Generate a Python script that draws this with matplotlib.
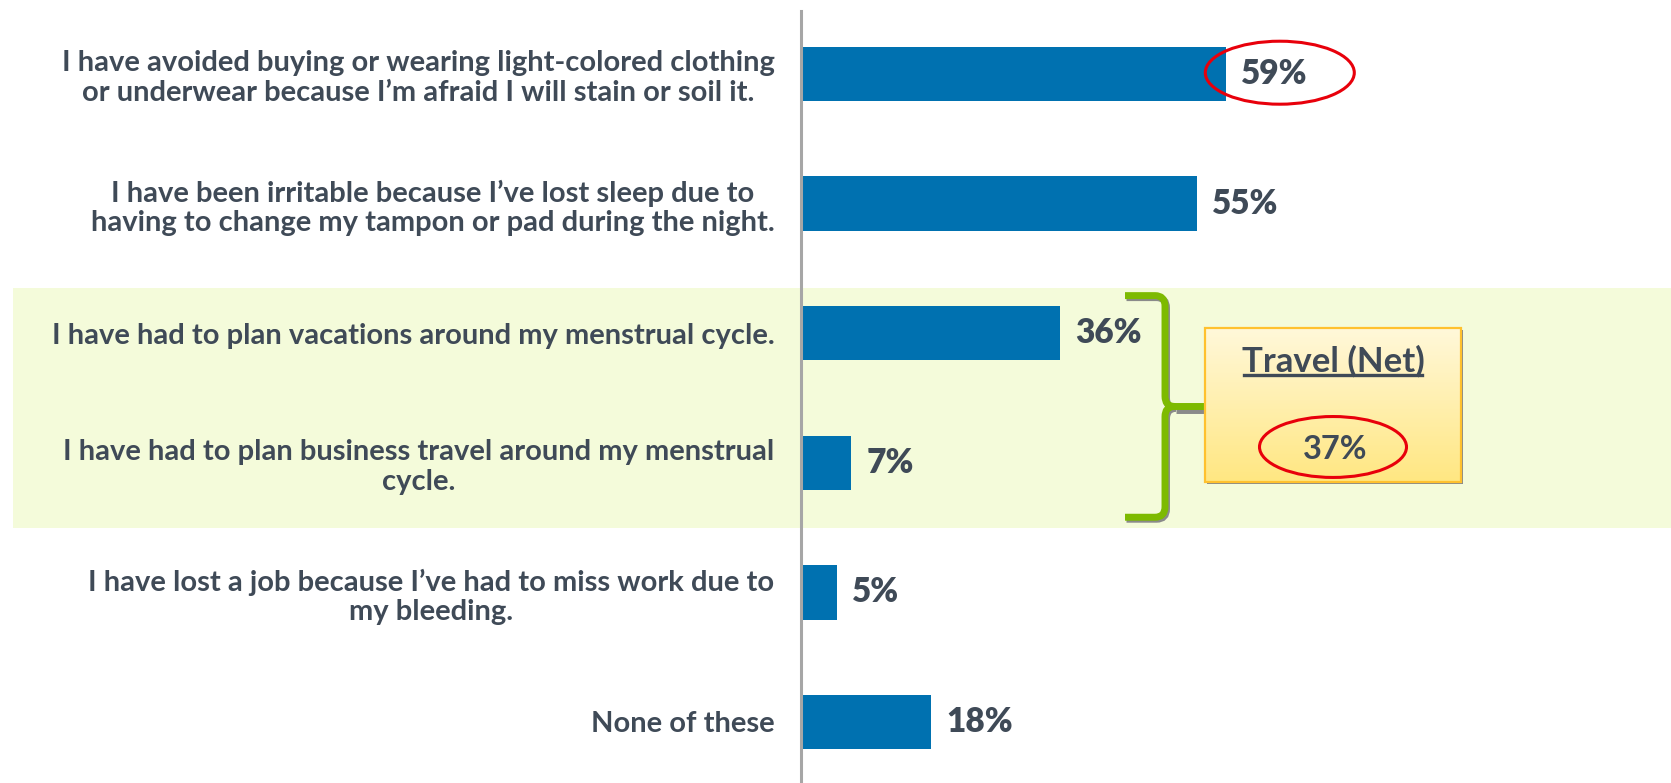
import matplotlib
matplotlib.use('Agg')
from matplotlib import pyplot as plt
from matplotlib.patches import Rectangle, Ellipse, PathPatch
from matplotlib.path import Path
from matplotlib.lines import Line2D
from matplotlib.colors import LinearSegmentedColormap
import matplotlib.transforms as mtransforms
import numpy as np

plt.rcParams['font.family'] = ['Lato', 'DejaVu Sans']

# survey statements and share of respondents
labels = [
    'I have avoided buying or wearing light-colored clothing\nor underwear because I\u2019m afraid I will stain or soil it.',
    'I have been irritable because I\u2019ve lost sleep due to\nhaving to change my tampon or pad during the night.',
    'I have had to plan vacations around my menstrual cycle.',
    'I have had to plan business travel around my menstrual\ncycle.',
    'I have lost a job because I\u2019ve had to miss work due to\nmy bleeding.',
    'None of these',
]
values = [59, 55, 36, 7, 5, 18]
travel_rows = [2, 3]
travel_net = 37
circled_row = 0

bar_color = '#0071B0'
text_color = '#3F4A57'
band_color = '#F4FBDA'
brace_color = '#7DBA00'
ring_color = '#E8000B'

W, H = 1671, 783
x0_px = 801
px_per_pct = 7.2
row_px = 129.6


def px(x):
    # figure pixel column -> data x
    return (x - x0_px) / px_per_pct


fig = plt.figure(figsize=(W / 100, H / 100), dpi=100)
ax = fig.add_axes([x0_px / W, 0, (W - x0_px) / W, 1])
ax.set_facecolor('none')

y_top = -74 / row_px
y_bot = y_top + H / row_px

# highlighted band behind the travel rows
band_tr = mtransforms.blended_transform_factory(fig.transFigure, ax.transData)
band = Rectangle((13 / W, travel_rows[0] - 0.35), 1 - 13 / W,
                 travel_rows[-1] - travel_rows[0] + 0.85,
                 transform=band_tr, facecolor=band_color, edgecolor='none',
                 clip_on=False, zorder=0)
ax.add_patch(band)

y = np.arange(len(values))
ax.barh(y, values, height=0.42, color=bar_color, zorder=2)

for i, v in enumerate(values):
    ax.annotate(f'{v}%', (v, i), xytext=(11, 0), textcoords='offset points',
                va='center', ha='left', fontsize=24, fontweight='heavy',
                color=text_color, zorder=5)

# red ring around the top value
ax.add_patch(Ellipse((values[circled_row] + 54 / px_per_pct, circled_row - 0.01),
                     149 / px_per_pct, 0.486,
                     facecolor='none', edgecolor=ring_color, lw=2.2, zorder=6))

# curly brace joining the travel rows
x_tip, x_v, x_pt = px(1125), px(1165), px(1174)
x_box0, x_box1 = px(1205), px(1461)
rx = 10 / px_per_pct
b_top = travel_rows[0] - 0.29
b_bot = travel_rows[-1] + 0.42
b_mid = (b_top + b_bot) / 2
r = 0.08
verts = [(x_tip, b_top), (x_v - rx, b_top), (x_v, b_top), (x_v, b_top + r),
         (x_v, b_mid - r), (x_v, b_mid), (x_pt, b_mid), (x_v, b_mid), (x_v, b_mid + r),
         (x_v, b_bot - r), (x_v, b_bot), (x_v - rx, b_bot), (x_tip, b_bot)]
codes = [Path.MOVETO, Path.LINETO, Path.CURVE3, Path.CURVE3, Path.LINETO,
         Path.CURVE3, Path.CURVE3, Path.CURVE3, Path.CURVE3, Path.LINETO,
         Path.CURVE3, Path.CURVE3, Path.LINETO]
brace = Path(verts, codes)
shadow_tr = mtransforms.offset_copy(ax.transData, fig, x=1.5, y=-2, units='dots')
ax.add_patch(PathPatch(brace, facecolor='none', edgecolor='#8a8a8a', lw=5,
                       transform=shadow_tr, zorder=3, clip_on=False))
ax.add_patch(PathPatch(brace, facecolor='none', edgecolor=brace_color, lw=5,
                       capstyle='butt', joinstyle='round', zorder=4, clip_on=False))
ax.plot([x_pt, x_box0], [b_mid + 0.015, b_mid + 0.015], color='#8a8a8a', lw=5,
        transform=shadow_tr, zorder=3, solid_capstyle='butt')
ax.plot([x_pt - 0.5, x_box0], [b_mid, b_mid], color=brace_color, lw=5,
        zorder=4, solid_capstyle='butt')

# net box with gradient
bx_top, bx_bot = 1.96, 3.15
ax.add_patch(Rectangle((x_box0, bx_top), x_box1 - x_box0, bx_bot - bx_top,
                       transform=shadow_tr, facecolor='#8a8a8a',
                       edgecolor='none', zorder=3))
grad = np.linspace(0, 1, 100).reshape(-1, 1)
cmap = LinearSegmentedColormap.from_list('box', ['#FFF8DA', '#FFE782'])
ax.imshow(grad, cmap=cmap, extent=(x_box0, x_box1, bx_bot, bx_top),
          origin='upper', aspect='auto', zorder=4)
ax.add_patch(Rectangle((x_box0, bx_top), x_box1 - x_box0, bx_bot - bx_top,
                       facecolor='none', edgecolor='#FFC12E', lw=1.6, zorder=5))
bx_c = (x_box0 + x_box1) / 2
title = ax.text(bx_c, 2.215, 'Travel (Net)', ha='center', va='center',
                fontsize=25, fontweight='bold', color=text_color, zorder=6)
ax.text(bx_c + 0.3, 2.9, f'{travel_net}%', ha='center', va='center',
        fontsize=23.5, fontweight='bold', color=text_color, zorder=6)
ax.add_patch(Ellipse((bx_c, 2.878), 147 / px_per_pct, 0.47, facecolor='none',
                     edgecolor=ring_color, lw=2.2, zorder=6))

ax.set_xlim(0, px(W))
ax.set_ylim(y_bot, y_top)

ax.set_yticks(y)
ax.set_yticklabels(labels, fontsize=21, fontweight='bold', color=text_color)
for t in ax.get_yticklabels():
    t.set_multialignment('center')
    t.set_linespacing(1.18)
ax.tick_params(axis='y', length=0, pad=19)
ax.set_xticks([])
for s in ['top', 'right', 'bottom']:
    ax.spines[s].set_visible(False)
ax.spines['left'].set_color('#A6A6A6')
ax.spines['left'].set_linewidth(2.2)
ax.spines['left'].set_bounds(y_bot, y_top + 11 / row_px)

# underline for the box title
fig.canvas.draw()
bb = title.get_window_extent()
fig.add_artist(Line2D([bb.x0 + 2, bb.x1 - 2], [bb.y0 + 2, bb.y0 + 2],
                      transform=mtransforms.IdentityTransform(),
                      color=text_color, lw=2.4, zorder=7))

plt.savefig('out.png', dpi=100)
